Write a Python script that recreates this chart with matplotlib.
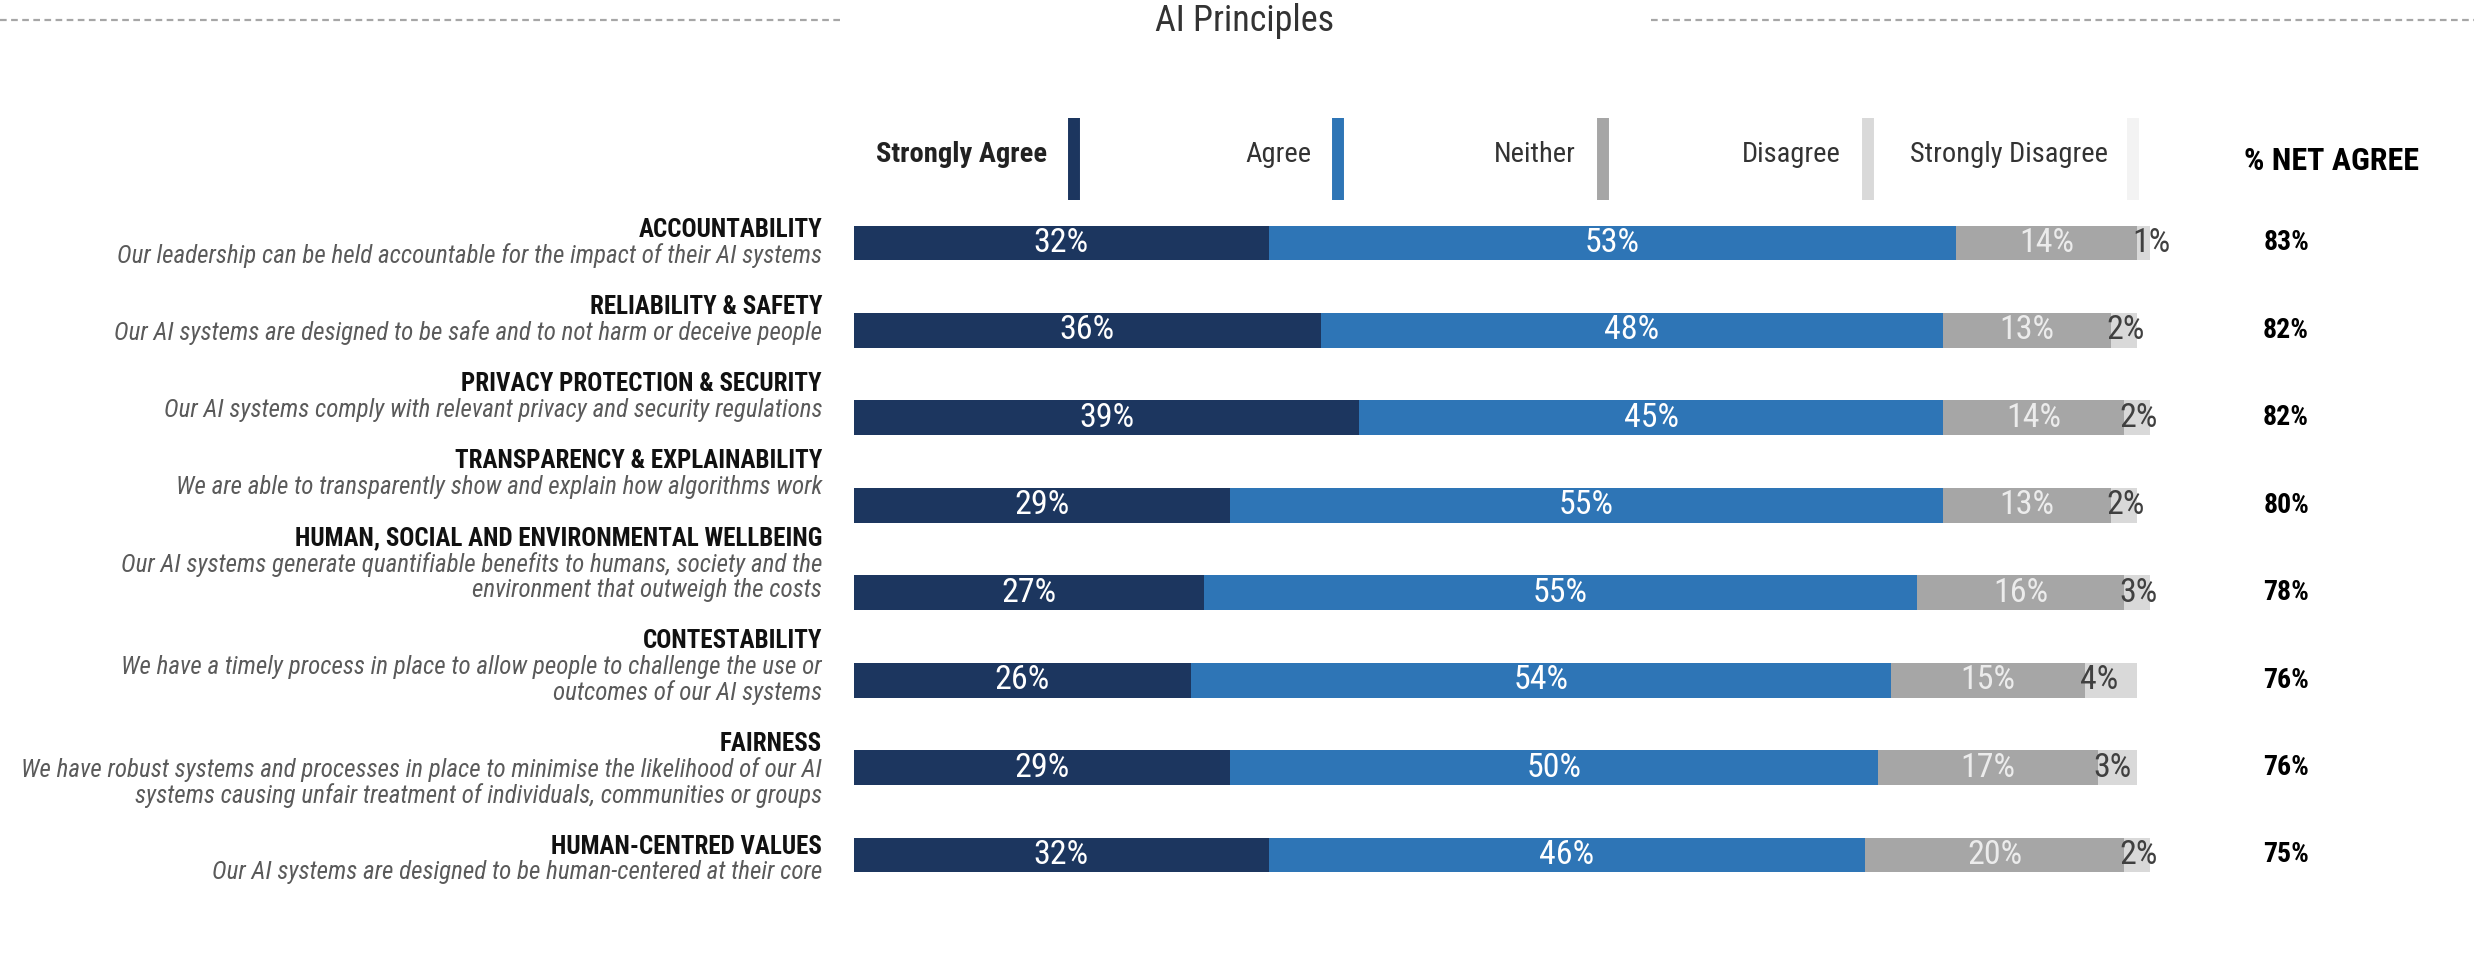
import matplotlib
matplotlib.use("Agg")
import matplotlib.pyplot as plt
from matplotlib.lines import Line2D

principles = [
    "ACCOUNTABILITY",
    "RELIABILITY & SAFETY",
    "PRIVACY PROTECTION & SECURITY",
    "TRANSPARENCY & EXPLAINABILITY",
    "HUMAN, SOCIAL AND ENVIRONMENTAL WELLBEING",
    "CONTESTABILITY",
    "FAIRNESS",
    "HUMAN-CENTRED VALUES",
]
descriptions = [
    ["Our leadership can be held accountable for the impact of their AI systems"],
    ["Our AI systems are designed to be safe and to not harm or deceive people"],
    ["Our AI systems comply with relevant privacy and security regulations"],
    ["We are able to transparently show and explain how algorithms work"],
    ["Our AI systems generate quantifiable benefits to humans, society and the",
     "environment that outweigh the costs"],
    ["We have a timely process in place to allow people to challenge the use or",
     "outcomes of our AI systems"],
    ["We have robust systems and processes in place to minimise the likelihood of our AI",
     "systems causing unfair treatment of individuals, communities or groups"],
    ["Our AI systems are designed to be human-centered at their core"],
]
strongly_agree = [32, 36, 39, 29, 27, 26, 29, 32]
agree = [53, 48, 45, 55, 55, 54, 50, 46]
neither = [14, 13, 14, 13, 16, 15, 17, 20]
disagree = [1, 2, 2, 2, 3, 4, 3, 2]
net_agree = [83, 82, 82, 80, 78, 76, 76, 75]
legend_labels = ["Strongly Agree", "Agree", "Neither", "Disagree", "Strongly Disagree"]

colors = ["#1c365f", "#2e75b6", "#a6a6a6", "#d9d9d9", "#f3f3f3"]
label_colors = ["white", "white", "#ececec", "#404040"]

FONT = ["Roboto Condensed", "Roboto", "DejaVu Sans"]
W, H = 2474, 959

fig = plt.figure(figsize=(W / 100, H / 100), dpi=100)


def fx(px):
    return px / W


def fy(py):
    return 1 - py / H


# bar area: 0..100 % spans x 854..2150, rows centred from y 243 to 855
row_gap = (855 - 243) / 7
ax = fig.add_axes([fx(854), fy(855 + row_gap / 2), fx(2150) - fx(854),
                   (855 - 243 + row_gap) / H])
ax.set_xlim(0, 100)
ax.set_ylim(len(principles) - 0.5, -0.5)
ax.axis("off")

segments = [strongly_agree, agree, neither, disagree]
rows = range(len(principles))
left = [0] * len(principles)
for k, seg in enumerate(segments):
    ax.barh(rows, seg, left=left, height=0.4, color=colors[k], linewidth=0)
    for i, v in enumerate(seg):
        if k < 3:
            ax.text(left[i] + v / 2, i, f"{v}%", ha="center", va="center",
                    color=label_colors[k], fontsize=24.5, family=FONT)
        else:
            ax.text(left[i] - 0.4, i, f"{v}%", ha="left", va="center",
                    color=label_colors[k], fontsize=24.5, family=FONT)
    left = [a + b for a, b in zip(left, seg)]

# net agree column
for i, v in enumerate(net_agree):
    ax.text(110.5, i, f"{v}%", ha="center", va="center", fontsize=20,
            fontweight="bold", color="black", family=FONT)

# row labels, stacked as a text flow on the left
step = 25.7
y = 230
for title, desc in zip(principles, descriptions):
    fig.text(fx(822), fy(y), title, ha="right", va="center", fontsize=18,
             fontweight="bold", color="#111111", family=FONT)
    for j, line in enumerate(desc):
        fig.text(fx(822), fy(y + step * (j + 1)), line, ha="right", va="center",
                 fontsize=18, style="italic", color="#5a5a5a", family=FONT)
    y += step * (len(desc) + 2)

# legend: labels sit to the left of thin coloured bars
bar_x = [1074, 1338, 1603, 1868, 2133]
for k, (lab, bx) in enumerate(zip(legend_labels, bar_x)):
    fig.add_artist(Line2D([fx(bx), fx(bx)], [fy(118), fy(200)], lw=8.6,
                          color=colors[k], solid_capstyle="butt"))
    if k == 4:
        fig.text(fx(1910), fy(155), lab, ha="left", va="center", fontsize=20.5,
                 color="#333333", family=FONT)
    else:
        fig.text(fx(bx - 27), fy(155), lab, ha="right", va="center",
                 fontsize=20.5, color="#222222" if k == 0 else "#333333",
                 fontweight="bold" if k == 0 else "normal", family=FONT)
fig.text(fx(2332), fy(161), "% NET AGREE", ha="center", va="center",
         fontsize=23, fontweight="bold", color="black", family=FONT)

# title with dashed rules either side
fig.text(fx(1245), fy(21), "AI Principles", ha="center", va="center",
         fontsize=26, color="#333333", family=FONT)
for x0, x1 in [(0, 844), (1651, W)]:
    fig.add_artist(Line2D([fx(x0), fx(x1)], [fy(20), fy(20)], lw=1.6,
                          color="#a6a6a6", linestyle=(0, (3, 2))))

fig.savefig("out.png", dpi=100, facecolor="white")
